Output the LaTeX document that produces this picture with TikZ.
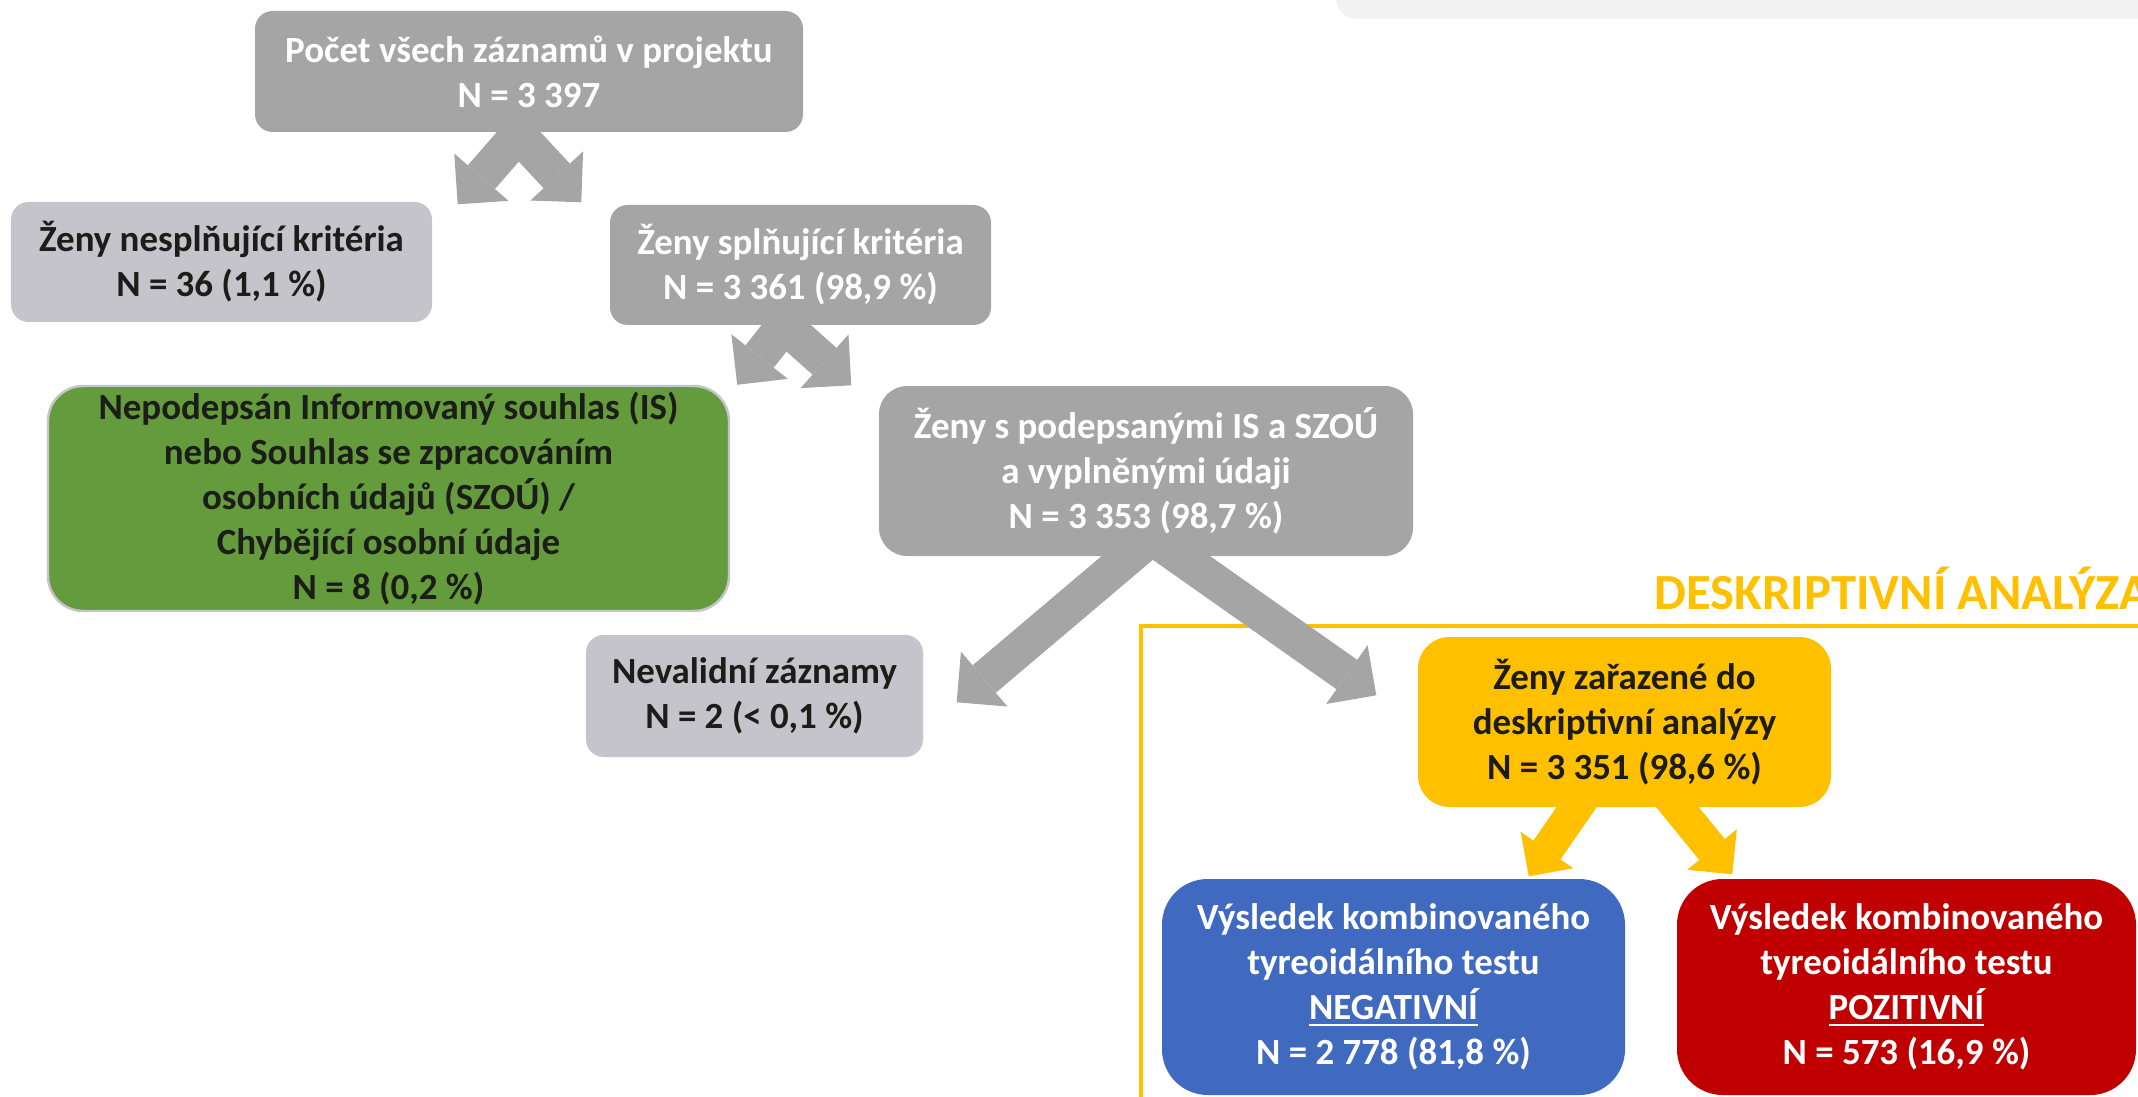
\documentclass[tikz,border=0pt]{standalone}
\usepackage{fontspec}
\setmainfont{Carlito}
\usepackage{tikz}
\usetikzlibrary{arrows.meta, calc, backgrounds}
\definecolor{cDark}{RGB}{165,165,165}
\definecolor{cLight}{RGB}{196,196,202}
\definecolor{cGreen}{RGB}{99,155,61}
\definecolor{cYellow}{RGB}{255,192,0}
\definecolor{cBlue}{RGB}{64,106,192}
\definecolor{cRed}{RGB}{192,0,0}
\definecolor{cPanel}{RGB}{242,242,242}
\definecolor{cInk}{RGB}{28,28,24}
\tikzset{
	box/.style      ={rectangle, align=center, inner sep=0pt, font=\bfseries\fontsize{10.5}{12.8}\selectfont},
	darkbox/.style  ={box, fill=cDark, text=white, rounded corners=5pt},
	lightbox/.style ={box, fill=cLight, text=cInk, rounded corners=5pt},
	greenbox/.style ={box, fill=cGreen, draw=cLight, line width=0.7pt, text=cInk, rounded corners=10pt},
	yelbox/.style   ={box, fill=cYellow, text=cInk, rounded corners=9pt},
	resbox/.style   ={box, text=white, rounded corners=13pt, minimum height=2.16cm},
	grayarrow/.style={-{Triangle[length=3.6mm, width=7.2mm, line width=0pt]}, line width=3.6mm, draw=cDark},
	yelarrow/.style ={-{Triangle[length=3.2mm, width=6.4mm, line width=0pt]}, line width=3.3mm, draw=cYellow},
}

\begin{document}
\begin{tikzpicture}
	\useasboundingbox (0,0) rectangle (21.38,-10.97);
	\clip (0,0) rectangle (21.38,-10.97);
	\node[darkbox, minimum width=5.48cm, minimum height=1.21cm] (pocet) at (5.29,-0.715) {Počet všech záznamů v projektu\\N = 3 397};
	\node[lightbox, minimum width=4.21cm, minimum height=1.2cm] (nesplnujici) at (2.215,-2.62) {Ženy nesplňující kritéria\\N = 36 (1,1 \%)};
	\node[darkbox, minimum width=3.81cm, minimum height=1.2cm] (splnujici) at (8.005,-2.65) {Ženy splňující kritéria\\N = 3 361 (98,9 \%)};
	\node[greenbox, minimum width=6.81cm, minimum height=2.25cm] (souhlas) at (3.885,-4.985) {Nepodepsán Informovaný souhlas (IS)\\nebo Souhlas se zpracováním\\osobních údajů (SZOÚ) /\\Chybějící osobní údaje\\N = 8 (0,2 \%)};
	\node[darkbox, rounded corners=8pt, minimum width=5.34cm, minimum height=1.7cm] (podepsane) at (11.46,-4.71) {Ženy s podepsanými IS a SZOÚ\\a vyplněnými údaji\\N = 3 353 (98,7 \%)};
	\node[lightbox, minimum width=3.37cm, minimum height=1.22cm] (nevalidni) at (7.545,-6.96) {Nevalidní záznamy\\N = 2 (< 0,1 \%)};
	\node[yelbox, minimum width=4.13cm, minimum height=1.7cm] (deskriptivni) at (16.245,-7.22) {Ženy zařazené do\\deskriptivní analýzy\\N = 3 351 (98,6 \%)};
	\node[resbox, fill=cBlue, minimum width=4.63cm] (negativni) at (13.935,-9.87) {Výsledek kombinovaného\\tyreoidálního testu\\\underline{NEGATIVNÍ}\\N = 2 778 (81,8 \%)};
	\node[resbox, fill=cRed, minimum width=4.59cm] (pozitivni) at (19.065,-9.87) {Výsledek kombinovaného\\tyreoidálního testu\\\underline{POZITIVNÍ}\\N = 573 (16,9 \%)};
	\node[anchor=base west, inner sep=0pt, text=cYellow, font=\bfseries\fontsize{14.4}{17}\selectfont] (titulek) at (16.54,-6.09) {DESKRIPTIVNÍ ANALÝZA};
	\begin{scope}[on background layer]
		\fill[cPanel, rounded corners=6pt] (13.36,0.3) rectangle (21.7,-0.19);
		\draw[cYellow, line width=0.9pt] (11.41,-11.2) -- (11.41,-6.26) -- (21.7,-6.26);
		\draw[grayarrow] ($(pocet.south)+(-0.01,0.09)$) -- ($(nesplnujici.north east)+(0.25,-0.03)$);
		\draw[grayarrow] ($(pocet.south)+(-0.21,0.09)$) -- ($(splnujici.north west)+(-0.28,0.02)$);
		\draw[grayarrow] ($(splnujici.south)+(-0.07,0.12)$) -- ($(souhlas.north east)+(0.07,0)$);
		\draw[grayarrow] ($(splnujici.south)+(-0.27,0.10)$) -- ($(podepsane.north west)+(-0.27,0)$);
		\draw[grayarrow] ($(podepsane.south)+(0.17,0.29)$) -- ($(nevalidni.north east)+(0.33,-0.68)$);
		\draw[grayarrow] ($(podepsane.south)+(-0.06,0.28)$) -- ($(deskriptivni.north west)+(-0.41,-0.59)$);
		\draw[yelarrow] ($(deskriptivni.south)+(-0.365,0.17)$) -- ($(negativni.north east)+(-0.97,0.02)$);
		\draw[yelarrow] ($(deskriptivni.south)+(0.395,0.17)$) -- ($(pozitivni.north west)+(0.56,0.04)$);
	\end{scope}
\end{tikzpicture}
\end{document}
